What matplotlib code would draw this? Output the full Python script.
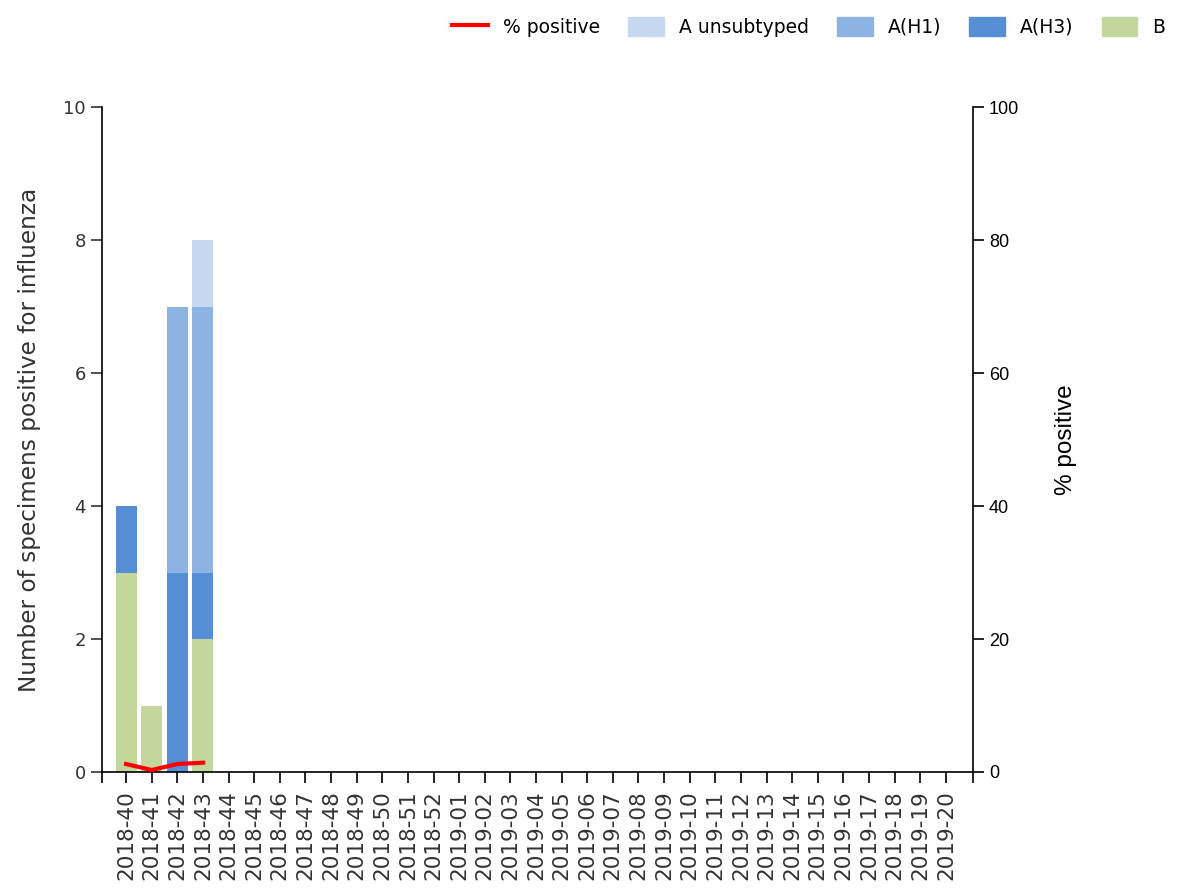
import matplotlib
matplotlib.use("Agg")
import matplotlib.pyplot as plt
from matplotlib.patches import Patch
from matplotlib.lines import Line2D

weeks = ["2018-%02d" % w for w in range(40, 53)] + ["2019-%02d" % w for w in range(1, 21)]
n = len(weeks)
b_vals = [3, 1, 0, 2]
h3_vals = [1, 0, 3, 1]
h1_vals = [0, 0, 4, 4]
aun_vals = [0, 0, 0, 1]
pct_pos = [1.2, 0.3, 1.2, 1.4]

b = b_vals + [0] * (n - 4)
h3 = h3_vals + [0] * (n - 4)
h1 = h1_vals + [0] * (n - 4)
aun = aun_vals + [0] * (n - 4)

c_b = "#c3d69b"
c_h3 = "#558ed5"
c_h1 = "#8db3e2"
c_aun = "#c6d9f1"

fig = plt.figure(figsize=(11.82, 8.93), dpi=100)
ax = fig.add_axes([0.0863, 0.1355, 0.7367, 0.7445])
x = list(range(n))
w = 0.82
ax.bar(x, b, w, color=c_b)
bot = b[:]
ax.bar(x, h3, w, bottom=bot, color=c_h3)
bot = [p + q for p, q in zip(bot, h3)]
ax.bar(x, h1, w, bottom=bot, color=c_h1)
bot = [p + q for p, q in zip(bot, h1)]
ax.bar(x, aun, w, bottom=bot, color=c_aun)

x0, x1 = -0.94, n - 1 + 1.05
ax.set_xlim(x0, x1)
ax.set_ylim(0, 10)
ax.set_xticks(x)
ax.set_xticks([x0, x1], minor=True)
ax.set_xticklabels(weeks, rotation=90, fontsize=15.5, color="#333333")
ax.set_yticks([0, 2, 4, 6, 8, 10])
ax.tick_params(axis="y", labelsize=13, length=8, width=1.2, colors="#333333")
ax.tick_params(axis="x", which="both", length=8, width=1.2, pad=5)
ax.spines["top"].set_visible(False)
ax.spines["right"].set_visible(False)
ax.spines["left"].set_linewidth(1.2)
ax.spines["bottom"].set_linewidth(1.2)
ax.set_ylabel("Number of specimens positive for influenza", fontsize=16.7, color="#333333", labelpad=16)

ax2 = ax.twinx()
ax2.plot(range(len(pct_pos)), pct_pos, color="red", lw=3)
ax2.set_ylim(0, 100)
ax2.set_yticks([0, 20, 40, 60, 80, 100])
ax2.tick_params(axis="y", labelsize=13, length=8, width=1.2)
for t in ax2.get_yticklabels():
    t.set_family("Liberation Sans")
ax2.spines["top"].set_visible(False)
ax2.spines["left"].set_visible(False)
ax2.spines["bottom"].set_visible(False)
ax2.spines["right"].set_linewidth(1.2)
ax2.set_ylabel("% positive", fontsize=17.5, family="Liberation Sans", labelpad=26)

handles = [Line2D([0], [0], color="red", lw=3),
           Patch(color=c_aun), Patch(color=c_h1), Patch(color=c_h3), Patch(color=c_b)]
labels = ["% positive", "A unsubtyped", "A(H1)", "A(H3)", "B"]
fig.legend(handles, labels, loc="upper right", bbox_to_anchor=(1.0, 1.0), ncol=5,
           frameon=False, fontsize=13.5, handlelength=1.9, handleheight=1.2, columnspacing=1.5,
           handletextpad=0.8)

fig.savefig("out.png", dpi=100)
